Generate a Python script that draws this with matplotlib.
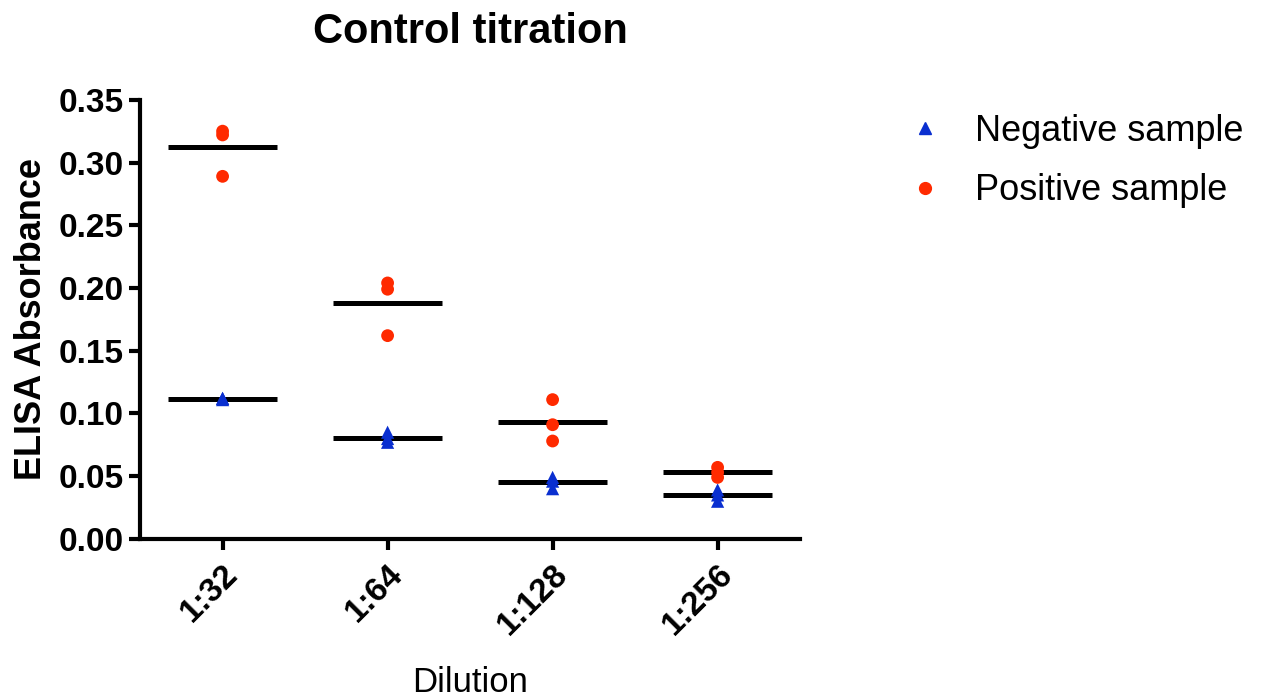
import numpy as np
import matplotlib
matplotlib.use("Agg")
import matplotlib.pyplot as plt
from matplotlib.lines import Line2D

plt.rcParams['font.family'] = ['Liberation Sans', 'DejaVu Sans']

# dilutions on the x axis
dilutions = ['1:32', '1:64', '1:128', '1:256']

# replicate absorbance readings
negative = [
    [0.112, 0.112, 0.111],
    [0.085, 0.080, 0.077],
    [0.049, 0.046, 0.040],
    [0.039, 0.035, 0.030],
]
positive = [
    [0.325, 0.322, 0.289],
    [0.204, 0.199, 0.162],
    [0.111, 0.091, 0.078],
    [0.057, 0.053, 0.049],
]

neg_color = '#0a2fd0'
pos_color = '#ff2a00'

fig = plt.figure(figsize=(12.62, 6.98), dpi=100)
ax = fig.add_axes([0.111, 0.228, 0.523, 0.629])

x = np.arange(len(dilutions))
half = 0.33
for i in range(len(dilutions)):
    # mean lines
    ax.hlines(np.mean(positive[i]), x[i] - half, x[i] + half, color='black', lw=3.6, zorder=2)
    ax.hlines(np.mean(negative[i]), x[i] - half, x[i] + half, color='black', lw=3.6, zorder=2)
    ax.scatter([x[i]] * len(negative[i]), negative[i], marker='^', s=90, color=neg_color,
               edgecolors='none', zorder=3)
    ax.scatter([x[i]] * len(positive[i]), positive[i], marker='o', s=85, color=pos_color,
               edgecolors='none', zorder=3)

ax.set_xlim(-0.5, 3.5)
ax.set_ylim(0, 0.35)
ax.set_yticks(np.arange(0, 0.351, 0.05))
ax.set_yticklabels(['%.2f' % v for v in np.arange(0, 0.351, 0.05)], fontsize=24, fontweight='bold')
ax.set_xticks(x)
ax.set_xticklabels(dilutions, rotation=45, ha='right', rotation_mode='anchor', fontsize=24,
                   fontweight='bold')
ax.tick_params(axis='both', width=3, length=8, direction='out')
ax.tick_params(axis='x', pad=6)
ax.tick_params(axis='y', pad=4)

for side in ['top', 'right']:
    ax.spines[side].set_visible(False)
for side in ['left', 'bottom']:
    ax.spines[side].set_linewidth(3)

ax.set_ylabel('ELISA Absorbance', fontsize=26, fontweight='bold', labelpad=7)
ax.set_xlabel('Dilution', fontsize=25, labelpad=18)
ax.set_title('Control titration', fontsize=30, fontweight='bold', pad=41)

handles = [
    Line2D([], [], marker='^', color=neg_color, ls='none', markersize=9),
    Line2D([], [], marker='o', color=pos_color, ls='none', markersize=8.5),
]
fig.legend(handles, ['Negative sample', 'Positive sample'], loc='upper left',
           bbox_to_anchor=(0.704, 0.863), frameon=False, fontsize=26, borderpad=0,
           handlelength=1.0, handletextpad=0.89, labelspacing=0.68)

fig.savefig('out.png', dpi=100)
